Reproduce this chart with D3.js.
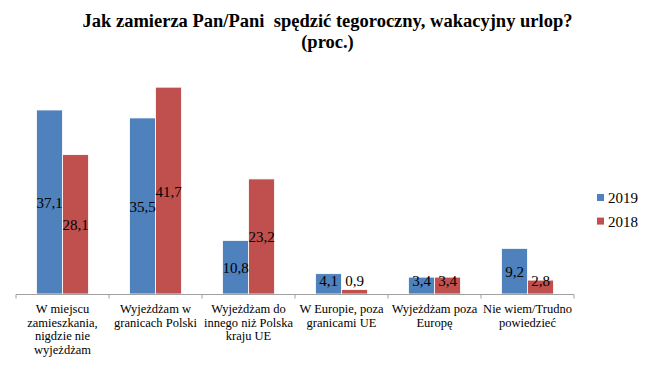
<!DOCTYPE html>
<html><head><meta charset="utf-8">
<script src="https://cdn.jsdelivr.net/npm/d3@7"></script>
<style>body{margin:0;background:#fff}svg{display:block}</style>
</head><body><svg id="c" width="655" height="366"></svg>
<script>
const titleLines = ["Jak zamierza Pan/Pani  spędzić tegoroczny, wakacyjny urlop?", "(proc.)"];
const categories = [
  ["W miejscu", "zamieszkania,", "nigdzie nie", "wyjeżdżam"],
  ["Wyjeżdżam w", "granicach Polski"],
  ["Wyjeżdżam do", "innego niż Polska", "kraju UE"],
  ["W Europie, poza", "granicami UE"],
  ["Wyjeżdżam poza", "Europę"],
  ["Nie wiem/Trudno", "powiedzieć"]
];
const seriesNames = ["2019", "2018"];
const values2019 = [37.1, 35.5, 10.8, 4.1, 3.4, 9.2];
const values2018 = [28.1, 41.7, 23.2, 0.9, 3.4, 2.8];
const colors = ["#4F81BD", "#C0504D"];

const svg = d3.select("#c");
const serif = "'Liberation Serif', 'DejaVu Serif', serif";
const series = [values2019, values2018];

const x0 = d3.scaleBand().domain(d3.range(categories.length)).range([16, 574]).padding(0);
const x1 = d3.scaleBand().domain(d3.range(series.length)).range([20.5, x0.bandwidth() - 20.5]).padding(0);
const y = d3.scaleLinear().domain([0, 45]).range([294, 70.8]);

// title
const title = svg.append("text").attr("x", 327.5).attr("y", 27)
  .attr("text-anchor", "middle").attr("font-family", serif).attr("font-weight", "bold")
  .attr("font-size", 18.5).attr("fill", "#000").style("white-space", "pre");
titleLines.forEach((t, i) => title.append("tspan").attr("x", 327.5).attr("dy", i ? 21 : 0).text(t));

// bars
const groups = svg.append("g").selectAll("g").data(categories).join("g")
  .attr("transform", (d, i) => `translate(${x0(i)},0)`);
groups.each(function(d, ci) {
  const g = d3.select(this);
  series.forEach((vals, si) => {
    const v = vals[ci];
    g.append("rect").attr("x", x1(si)).attr("width", x1.bandwidth())
      .attr("y", y(v)).attr("height", y(0) - y(v))
      .attr("fill", colors[si]).attr("stroke", "#fff").attr("stroke-width", 0.8);
  });
  series.forEach((vals, si) => {
    const v = vals[ci];
    const mid = (y(v) + y(0)) / 2;
    g.append("text").attr("x", x1(si) + x1.bandwidth() / 2)
      .attr("y", Math.min(mid, y(0) - 14) + 1)
      .attr("dominant-baseline", "central").attr("text-anchor", "middle")
      .attr("font-family", serif).attr("font-size", 15).attr("fill", "#000")
      .text(d3.format(".1f")(v).replace(".", ","));
  });
});

// x axis
const axis = d3.axisBottom(x0).tickSize(0).tickFormat("");
const ax = svg.append("g").attr("transform", "translate(0,294.5)").call(axis);
ax.select(".domain").attr("stroke", "#a0a0a0").attr("d", "M16,0H574");
ax.selectAll(".tick").remove();
ax.selectAll("line.b").data(d3.range(categories.length + 1)).join("line")
  .attr("x1", i => 16 + i * x0.step()).attr("x2", i => 16 + i * x0.step())
  .attr("y1", 0).attr("y2", 4).attr("stroke", "#a0a0a0");

// category labels
categories.forEach((lines, ci) => {
  const t = svg.append("text").attr("x", x0(ci) + x0.bandwidth() / 2).attr("y", 313)
    .attr("text-anchor", "middle").attr("font-family", serif).attr("font-size", 12.5).attr("fill", "#000");
  lines.forEach((l, li) => t.append("tspan").attr("x", x0(ci) + x0.bandwidth() / 2).attr("dy", li ? 13.5 : 0).text(l));
});

// legend
const lg = svg.append("g").selectAll("g").data(seriesNames).join("g")
  .attr("transform", (d, i) => `translate(597,${194 + i * 23.6})`);
lg.append("rect").attr("width", 7).attr("height", 7).attr("fill", (d, i) => colors[i]);
lg.append("text").attr("x", 11).attr("y", 4).attr("dominant-baseline", "central")
  .attr("font-family", serif).attr("font-size", 15).attr("fill", "#000").text(d => d);
</script></body></html>
